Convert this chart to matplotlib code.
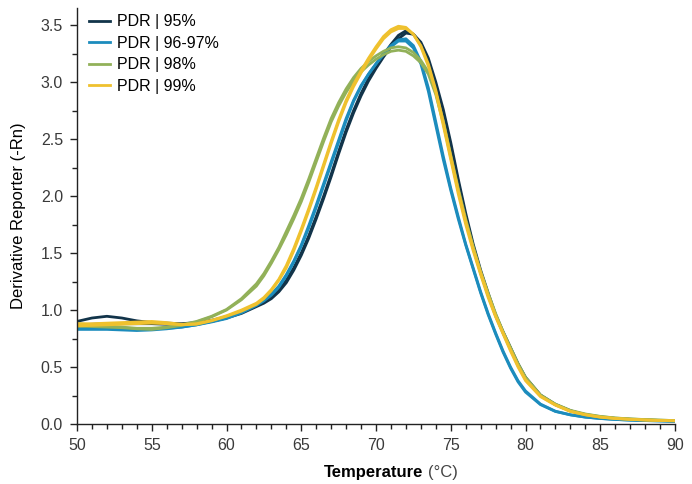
import matplotlib
matplotlib.use("Agg")
import matplotlib.pyplot as plt
from matplotlib.ticker import MultipleLocator, FormatStrFormatter

# Temperature grid (°C): 1° steps on the flat parts, 0.5° steps over the peak
temps = list(range(50, 62)) + [62 + 0.5 * i for i in range(37)] + list(range(81, 91))

# PDR | 95%  (two replicate wells)
pdr95_a = [0.90, 0.93, 0.945, 0.93, 0.905, 0.89, 0.885, 0.88, 0.89, 0.91, 0.94, 0.98,
           1.04, 1.07, 1.11, 1.17, 1.26, 1.37, 1.50, 1.65, 1.82, 2.00,
           2.19, 2.39, 2.58, 2.75, 2.90, 3.03, 3.14, 3.24, 3.33, 3.41,
           3.45, 3.42, 3.33, 3.18, 2.97, 2.73, 2.44, 2.12, 1.82, 1.56,
           1.33, 1.13, 0.95, 0.80, 0.66, 0.52, 0.40,
           0.25, 0.17, 0.115, 0.08, 0.06, 0.048, 0.04, 0.034, 0.03, 0.027]
pdr95_b = [0.87, 0.875, 0.88, 0.88, 0.88, 0.88, 0.875, 0.875, 0.88, 0.90, 0.93, 0.97,
           1.03, 1.06, 1.10, 1.16, 1.24, 1.35, 1.48, 1.63, 1.80, 1.98,
           2.17, 2.37, 2.56, 2.73, 2.88, 3.01, 3.12, 3.22, 3.31, 3.38,
           3.43, 3.42, 3.35, 3.21, 3.00, 2.76, 2.47, 2.15, 1.85, 1.58,
           1.35, 1.15, 0.96, 0.81, 0.67, 0.53, 0.41,
           0.255, 0.172, 0.117, 0.081, 0.061, 0.049, 0.041, 0.035, 0.031, 0.028]

# PDR | 96-97%
pdr9697_a = [0.85, 0.845, 0.84, 0.84, 0.835, 0.835, 0.84, 0.85, 0.87, 0.90, 0.93, 0.99,
             1.05, 1.09, 1.14, 1.21, 1.31, 1.43, 1.57, 1.74, 1.92, 2.11,
             2.30, 2.49, 2.68, 2.84, 2.97, 3.07, 3.16, 3.24, 3.31, 3.36,
             3.36, 3.30, 3.16, 2.92, 2.62, 2.32, 2.05, 1.80, 1.57, 1.36,
             1.15, 0.96, 0.79, 0.63, 0.49, 0.37, 0.28,
             0.17, 0.11, 0.08, 0.06, 0.048, 0.04, 0.034, 0.03, 0.027, 0.024]
pdr9697_b = [0.83, 0.83, 0.83, 0.825, 0.82, 0.825, 0.835, 0.85, 0.87, 0.895, 0.925, 0.975,
             1.04, 1.08, 1.13, 1.20, 1.30, 1.42, 1.56, 1.72, 1.90, 2.09,
             2.28, 2.47, 2.66, 2.83, 2.96, 3.07, 3.16, 3.25, 3.32, 3.37,
             3.38, 3.32, 3.18, 2.95, 2.65, 2.35, 2.07, 1.82, 1.58, 1.37,
             1.16, 0.97, 0.80, 0.64, 0.50, 0.38, 0.29,
             0.175, 0.112, 0.081, 0.061, 0.049, 0.04, 0.034, 0.03, 0.027, 0.024]

# PDR | 98%
pdr98_a = [0.86, 0.855, 0.85, 0.845, 0.835, 0.83, 0.845, 0.865, 0.895, 0.94, 1.00, 1.09,
           1.21, 1.30, 1.41, 1.53, 1.66, 1.80, 1.95, 2.12, 2.30, 2.48,
           2.65, 2.79, 2.91, 3.01, 3.09, 3.15, 3.20, 3.24, 3.27, 3.28,
           3.27, 3.23, 3.17, 3.07, 2.89, 2.64, 2.34, 2.05, 1.78, 1.54,
           1.32, 1.13, 0.96, 0.80, 0.66, 0.52, 0.40,
           0.25, 0.17, 0.115, 0.085, 0.065, 0.052, 0.044, 0.038, 0.034, 0.03]
pdr98_b = [0.88, 0.87, 0.86, 0.85, 0.84, 0.84, 0.85, 0.87, 0.90, 0.945, 1.005, 1.10,
           1.23, 1.32, 1.43, 1.55, 1.69, 1.83, 1.98, 2.15, 2.33, 2.51,
           2.68, 2.82, 2.94, 3.04, 3.12, 3.18, 3.23, 3.27, 3.30, 3.31,
           3.30, 3.26, 3.19, 3.09, 2.91, 2.66, 2.36, 2.07, 1.80, 1.56,
           1.34, 1.15, 0.97, 0.81, 0.67, 0.53, 0.41,
           0.255, 0.175, 0.12, 0.088, 0.067, 0.053, 0.045, 0.039, 0.034, 0.03]

# PDR | 99%
pdr99_a = [0.88, 0.88, 0.885, 0.89, 0.895, 0.90, 0.89, 0.875, 0.88, 0.91, 0.95, 1.00,
           1.06, 1.11, 1.18, 1.27, 1.39, 1.54, 1.71, 1.89, 2.08, 2.28,
           2.48, 2.67, 2.84, 2.98, 3.10, 3.21, 3.31, 3.40, 3.46, 3.49,
           3.48, 3.42, 3.31, 3.14, 2.91, 2.62, 2.32, 2.02, 1.75, 1.52,
           1.31, 1.11, 0.94, 0.79, 0.64, 0.50, 0.38,
           0.24, 0.165, 0.11, 0.08, 0.06, 0.048, 0.041, 0.035, 0.031, 0.028]
pdr99_b = [0.86, 0.865, 0.87, 0.875, 0.88, 0.885, 0.88, 0.87, 0.875, 0.905, 0.945, 0.99,
           1.05, 1.10, 1.17, 1.26, 1.37, 1.52, 1.69, 1.87, 2.06, 2.26,
           2.46, 2.65, 2.82, 2.96, 3.08, 3.19, 3.29, 3.38, 3.44, 3.47,
           3.47, 3.42, 3.32, 3.16, 2.93, 2.65, 2.35, 2.05, 1.78, 1.54,
           1.33, 1.13, 0.95, 0.80, 0.65, 0.51, 0.39,
           0.245, 0.168, 0.112, 0.082, 0.061, 0.049, 0.041, 0.035, 0.031, 0.028]

labels = ["PDR | 95%", "PDR | 96-97%", "PDR | 98%", "PDR | 99%"]
colors = ["#12344a", "#1c8cbd", "#92b159", "#efc12e"]
groups = [[pdr95_a, pdr95_b], [pdr9697_a, pdr9697_b],
          [pdr98_a, pdr98_b], [pdr99_a, pdr99_b]]

SANS = ["Liberation Sans", "DejaVu Sans"]
plt.rcParams["font.family"] = SANS

fig = plt.figure(figsize=(6.92, 4.84), dpi=100)
ax = fig.add_axes([77 / 692, 1 - 424 / 484, 598 / 692, 416 / 484])

for lab, col, reps in zip(labels, colors, groups):
    for i, vals in enumerate(reps):
        ax.plot(temps, vals, color=col, lw=2.0, solid_joinstyle="round",
                label=lab if i == 0 else None)

ax.set_xlim(50, 90)
ax.set_ylim(0, 3.65)
ax.xaxis.set_major_locator(MultipleLocator(5))
ax.xaxis.set_minor_locator(MultipleLocator(1))
ax.yaxis.set_major_locator(MultipleLocator(0.5))
ax.yaxis.set_minor_locator(MultipleLocator(0.25))
ax.yaxis.set_major_formatter(FormatStrFormatter("%.1f"))
for s in ["top", "right"]:
    ax.spines[s].set_visible(False)
for s in ["left", "bottom"]:
    ax.spines[s].set_linewidth(1.0)
    ax.spines[s].set_color("#222222")
ax.tick_params(which="major", direction="out", length=5, width=1.0, color="#222222",
               labelsize=11.5, labelcolor="#3a3a3a", pad=5)
ax.tick_params(which="minor", direction="out", length=3.5, width=1.0, color="#222222")

ax.set_ylabel("Derivative Reporter (-Rn)", fontsize=12, labelpad=11)

# x label: bold word plus plain unit
fig.text(423 / 692, 1 - 472 / 484, "Temperature", fontweight="bold",
         fontsize=12, ha="right", va="center")
fig.text(428 / 692, 1 - 472 / 484, "(°C)", fontsize=12,
         color="#444444", ha="left", va="center")

leg = ax.legend(loc="upper left", bbox_to_anchor=(83 / 692, 1 - 8 / 484),
                bbox_transform=fig.transFigure, frameon=False,
                prop={"size": 11.5}, handlelength=1.3, borderpad=0.4,
                handletextpad=0.45, labelspacing=0.4, borderaxespad=0)
for h in leg.get_lines():
    h.set_linewidth(2.0)

fig.savefig("out.png", dpi=100)
